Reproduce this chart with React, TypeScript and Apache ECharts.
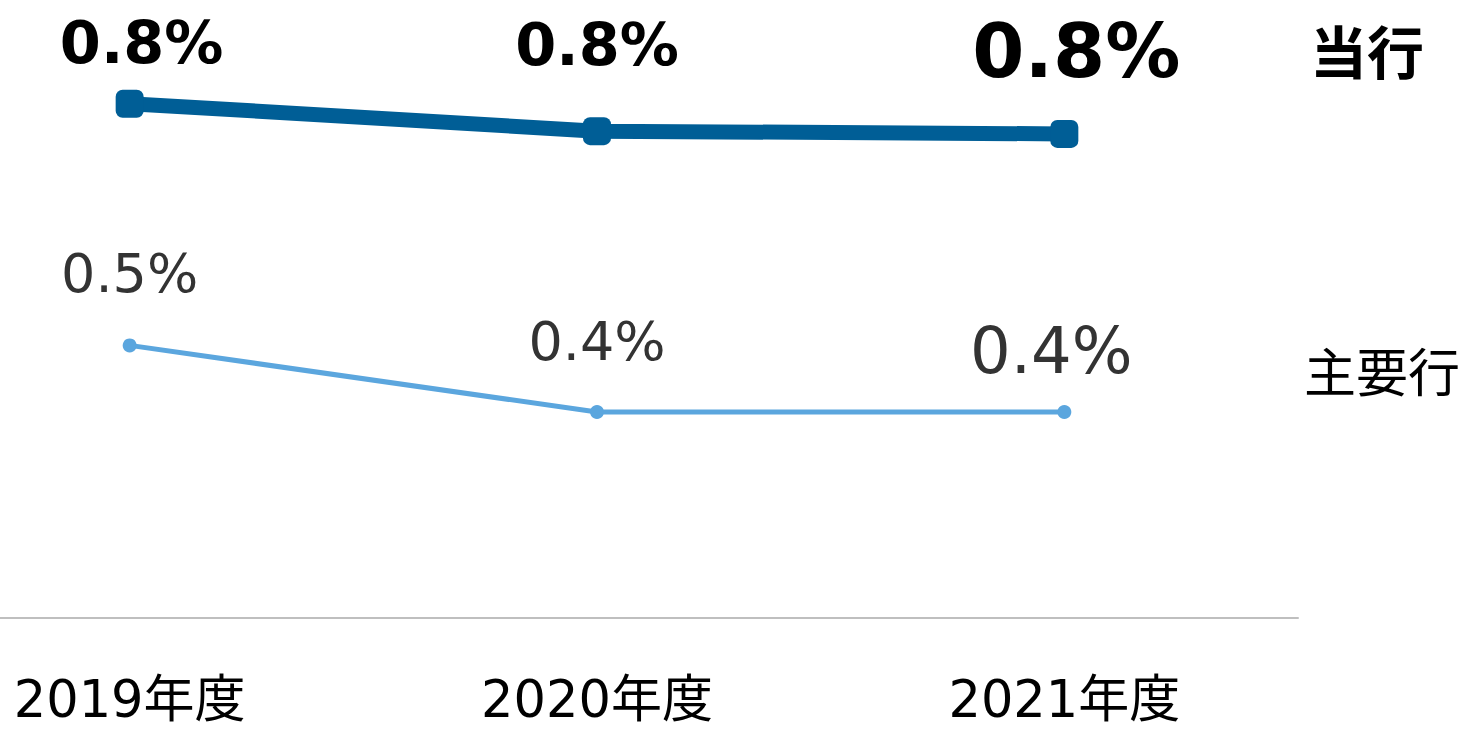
import React, { useEffect, useRef } from "react";
import * as echarts from "echarts";

const categories = ["2019年度", "2020年度", "2021年度"];
const ownBankValues = [0.849, 0.809, 0.805];
const ownBankLabels = ["0.8%", "0.8%", "0.8%"];
const majorBankValues = [0.497, 0.4, 0.4];
const majorBankLabels = ["0.5%", "0.4%", "0.4%"];
const seriesNames = ["当行", "主要行"];

const FONT = "'DejaVu Sans', 'Noto Sans CJK JP', sans-serif";
const SHIFT = 104;

export default function App() {
  const ref = useRef<HTMLDivElement>(null);
  useEffect(() => {
    if (!ref.current) return;
    const chart = echarts.init(ref.current, undefined, { renderer: "svg" });
    const darkLabelStyles = [
      { fontSize: 59, distance: 18, dx: 12 },
      { fontSize: 59, distance: 43, dx: 0 },
      { fontSize: 75, distance: 31, dx: 12 },
    ];
    const lightLabelStyles = [
      { fontSize: 54, distance: 38, dx: 0 },
      { fontSize: 54, distance: 37, dx: 0 },
      { fontSize: 64, distance: 22, dx: -13 },
    ];
    chart.setOption({
      animation: false,
      grid: { left: 0, right: 168, top: 0, bottom: 112 },
      xAxis: {
        type: "category",
        data: categories,
        boundaryGap: true,
        axisLine: { show: true, lineStyle: { color: "#bfbfbf", width: 2 } },
        axisTick: { show: false },
        axisLabel: {
          fontSize: 51,
          lineHeight: 50,
          color: "#000",
          fontFamily: FONT,
          margin: 56,
        },
      },
      yAxis: {
        type: "value",
        min: 0.1,
        max: 1.0,
        show: false,
        splitLine: { show: false },
      },
      graphic: [
        {
          type: "text",
          left: 1310 + SHIFT,
          top: 20,
          style: {
            text: seriesNames[0],
            font: "bold 57px 'Noto Sans CJK JP', sans-serif",
            fill: "#000",
          },
        },
        {
          type: "text",
          left: 1304 + SHIFT,
          top: 343,
          style: {
            text: seriesNames[1],
            font: "52px 'Noto Sans CJK JP', sans-serif",
            fill: "#000",
          },
        },
      ],
      series: [
        {
          name: seriesNames[0],
          type: "line",
          data: ownBankValues.map((v, i) => ({
            value: v,
            label: {
              show: true,
              position: "top",
              formatter: ownBankLabels[i],
              fontSize: darkLabelStyles[i].fontSize,
              distance: darkLabelStyles[i].distance,
              offset: [darkLabelStyles[i].dx, 0],
              fontWeight: "bold",
              color: "#000",
              fontFamily: FONT,
            },
          })),
          symbol: "roundRect",
          symbolSize: 28,
          lineStyle: { color: "#005e96", width: 15 },
          itemStyle: { color: "#005e96" },
          z: 3,
        },
        {
          name: seriesNames[1],
          type: "line",
          data: majorBankValues.map((v, i) => ({
            value: v,
            label: {
              show: true,
              position: "top",
              formatter: majorBankLabels[i],
              fontSize: lightLabelStyles[i].fontSize,
              distance: lightLabelStyles[i].distance,
              offset: [lightLabelStyles[i].dx, 0],
              color: "#333",
              fontFamily: FONT,
            },
          })),
          symbol: "circle",
          symbolSize: 14,
          lineStyle: { color: "#5ba6de", width: 5 },
          itemStyle: { color: "#5ba6de" },
          z: 2,
        },
      ],
    });
    return () => chart.dispose();
  }, []);
  return (
    <div
      ref={ref}
      style={{ position: "absolute", left: -SHIFT, top: 0, width: 1466 + SHIFT, height: 730, background: "#fff" }}
    />
  );
}
